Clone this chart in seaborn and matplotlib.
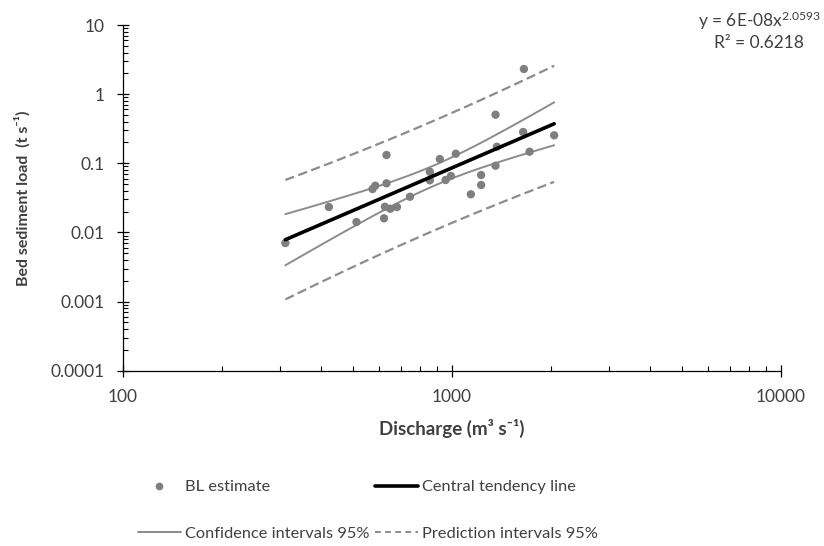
import numpy as np
import pandas as pd
import seaborn as sns
import matplotlib
matplotlib.use("Agg")
import matplotlib.pyplot as plt
from matplotlib.ticker import LogLocator, FixedLocator, FixedFormatter, NullFormatter
from matplotlib.lines import Line2D

# ---- data ----
discharge = [1655, 1357, 633, 919, 1028, 1646, 2045, 1370, 1722, 1357,
             857, 857, 957, 993, 1227, 1227, 1142, 585, 574, 633,
             746, 423, 626, 650, 681, 513, 622, 312]
bed_load = [2.31, 0.504, 0.1317, 0.1152, 0.1375, 0.2834, 0.2538, 0.1736, 0.147, 0.0922,
            0.0755, 0.0567, 0.0573, 0.0654, 0.0676, 0.0485, 0.0356, 0.0474, 0.0424, 0.0513,
            0.0328, 0.0233, 0.0235, 0.0220, 0.0233, 0.01413, 0.0160, 0.00702]
x_ticks = [100, 1000, 10000]
x_tick_labels = ["100", "1000", "10000"]
y_ticks = [0.0001, 0.001, 0.01, 0.1, 1, 10]
y_tick_labels = ["0.0001", "0.001", "0.01", "0.1", "1", "10"]
equation_text = "y = 6E-08x$^{2.0593}$"
r2_text = "R² = 0.6218"
INTERVAL_T = 2.39  # interval multiplier matching the band widths in the reference

# ---- power-law fit in log-log space ----
df = pd.DataFrame({"Q": discharge, "BL": bed_load})
lx = np.log10(df["Q"].to_numpy())
ly = np.log10(df["BL"].to_numpy())
n = len(lx)
b, a = np.polyfit(lx, ly, 1)
resid = ly - (a + b * lx)
s = np.sqrt(np.sum(resid ** 2) / (n - 2))
xm = lx.mean()
sxx = np.sum((lx - xm) ** 2)
xg = np.linspace(lx.min(), lx.max(), 120)
yg = a + b * xg
se_c = s * np.sqrt(1.0 / n + (xg - xm) ** 2 / sxx)
se_p = s * np.sqrt(1.0 + 1.0 / n + (xg - xm) ** 2 / sxx)
lines = pd.DataFrame({
    "Q": 10 ** xg,
    "fit": 10 ** yg,
    "ci_lo": 10 ** (yg - INTERVAL_T * se_c),
    "ci_hi": 10 ** (yg + INTERVAL_T * se_c),
    "pi_lo": 10 ** (yg - INTERVAL_T * se_p),
    "pi_hi": 10 ** (yg + INTERVAL_T * se_p),
})

# ---- style ----
sns.set_theme(style="white")
plt.rcParams["font.family"] = ["Lato", "DejaVu Sans"]
plt.rcParams["mathtext.fontset"] = "custom"
plt.rcParams["mathtext.rm"] = "Lato"
plt.rcParams["mathtext.it"] = "Lato"
plt.rcParams["mathtext.bf"] = "Lato:bold"

TXT = "#404040"
PT_COL = "#7f7f7f"
CI_COL = "#8c8c8c"
PI_COL = "#8c8c8c"
DASH = (0, (4.2, 2.0))

fig = plt.figure(figsize=(8.24, 5.46), dpi=100)
ax = fig.add_axes([0.1489, 0.3211, 0.799, 0.6331])

sns.lineplot(data=lines, x="Q", y="pi_hi", ax=ax, color=PI_COL, lw=1.6,
             sort=False, estimator=None, linestyle=DASH)
sns.lineplot(data=lines, x="Q", y="pi_lo", ax=ax, color=PI_COL, lw=1.6,
             sort=False, estimator=None, linestyle=DASH)
sns.lineplot(data=lines, x="Q", y="ci_hi", ax=ax, color=CI_COL, lw=1.4,
             sort=False, estimator=None)
sns.lineplot(data=lines, x="Q", y="ci_lo", ax=ax, color=CI_COL, lw=1.4,
             sort=False, estimator=None)
sns.scatterplot(data=df, x="Q", y="BL", ax=ax, color=PT_COL, s=36,
                edgecolor="none", zorder=3)
sns.lineplot(data=lines, x="Q", y="fit", ax=ax, color="black", lw=2.6,
             sort=False, estimator=None, zorder=4)

ax.set_xscale("log")
ax.set_yscale("log")
ax.set_xlim(100, 10000)
ax.set_ylim(0.0001, 10)

ax.xaxis.set_major_locator(FixedLocator(x_ticks))
ax.xaxis.set_major_formatter(FixedFormatter(x_tick_labels))
ax.yaxis.set_major_locator(FixedLocator(y_ticks))
ax.yaxis.set_major_formatter(FixedFormatter(y_tick_labels))
ax.xaxis.set_minor_locator(LogLocator(base=10, subs=np.arange(2, 10), numticks=20))
ax.yaxis.set_minor_locator(LogLocator(base=10, subs=np.arange(2, 10), numticks=20))
ax.xaxis.set_minor_formatter(NullFormatter())
ax.yaxis.set_minor_formatter(NullFormatter())

ax.tick_params(which="both", bottom=True, left=True, top=False, right=False)
ax.tick_params(which="major", direction="inout", length=8, width=0.9,
               color="black", labelsize=12.5, labelcolor=TXT)
ax.tick_params(axis="x", which="major", pad=9)
ax.tick_params(axis="y", which="major", pad=9)
ax.tick_params(which="minor", direction="in", length=3.5, width=0.8, color="black")
for side in ["top", "right"]:
    ax.spines[side].set_visible(False)
for side in ["left", "bottom"]:
    ax.spines[side].set_color("black")
    ax.spines[side].set_linewidth(0.9)

ax.set_xlabel("Discharge (m³ s⁻¹)", fontsize=13.5, fontweight="bold", color=TXT)
ax.set_ylabel("Bed sediment load  (t s⁻¹)", fontsize=11.5, fontweight="bold", color=TXT)
ax.xaxis.set_label_coords(0.5, -(429 - 370.7) / 345.7, transform=ax.transAxes)
ax.yaxis.set_label_coords(-(122.7 - 22) / 658.3, 0.5, transform=ax.transAxes)
ax.xaxis.label.set_va("center")
ax.yaxis.label.set_va("center")

fig.text(759 / 824, 1 - 21 / 546, equation_text, ha="center", va="center",
         fontsize=12.5, color=TXT)
fig.text(759 / 824, 1 - 43 / 546, r2_text, ha="center", va="center",
         fontsize=12.5, color=TXT)

handles = [
    Line2D([], [], marker="o", color=PT_COL, linestyle="none", markersize=4.5),
    Line2D([], [], color=CI_COL, lw=1.4),
    Line2D([], [], color="black", lw=2.6),
    Line2D([], [], color=PI_COL, lw=1.4, linestyle=(0, (3.0, 2.2))),
]
labels = ["BL estimate", "Confidence intervals 95%", "Central tendency line",
          "Prediction intervals 95%"]
leg = fig.legend(handles, labels, loc="upper left",
                 bbox_to_anchor=(138 / 824, 1 - 480 / 546), ncol=2, frameon=False,
                 fontsize=11.8, handlelength=2.6, handletextpad=0.25,
                 columnspacing=0.35, labelspacing=1.95, borderpad=0, borderaxespad=0)
for t in leg.get_texts():
    t.set_color(TXT)

fig.savefig("out.png", dpi=100)
